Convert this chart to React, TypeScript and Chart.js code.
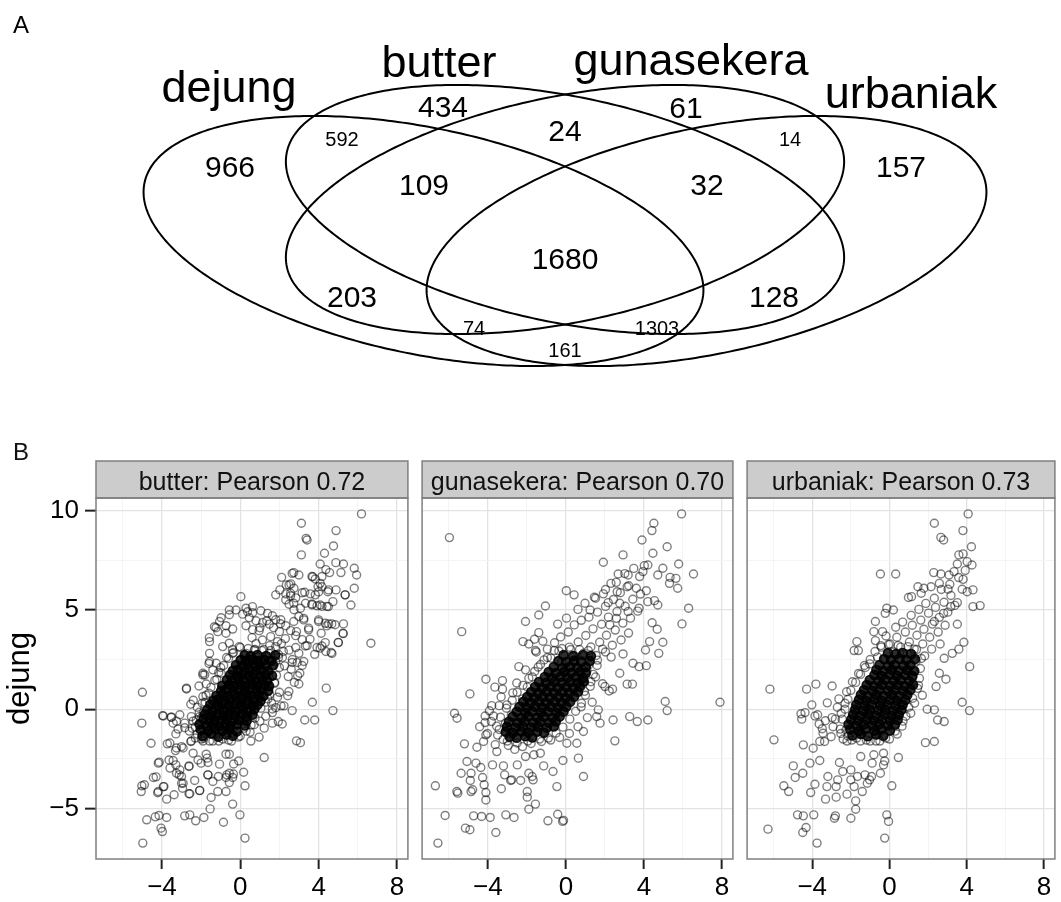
import React, { useEffect, useRef } from "react";
import { Chart, registerables } from "chart.js";

Chart.register(...registerables);

const FONT = "'Liberation Sans', Arial, Helvetica, sans-serif";
type P = [number, number];

// ---------------- Panel A : four-set Venn ----------------
const panelLetters = ["A", "B"];
const vennSets = ["dejung", "butter", "gunasekera", "urbaniak"];
const vennCenterX = [423.5, 565, 565, 706.5];
const vennCenterY = [241, 209.5, 209.5, 241];
const vennSemiMajor = [285, 284, 284, 285];
const vennSemiMinor = [113, 113, 113, 113];
const vennAngleDeg = [11.8, 11.6, -11.6, -11.8];
const vennSetLabelX = [229, 439, 691, 911];
const vennSetLabelBaseY = [102, 77, 75, 108];
const vennCounts = ["966", "434", "592", "109", "203", "74", "24", "61", "14", "157", "32", "1680", "128", "1303", "161"];
const vennCountX = [230, 443, 342, 424, 352, 474, 565, 686, 790, 901, 707, 565, 774, 657, 565];
const vennCountY = [166, 106, 139, 184, 296, 328, 130, 107, 139, 166, 184, 258, 296, 328, 350];
const vennCountSmall = [false, false, true, false, false, true, false, false, true, false, false, false, false, true, true];

// ---------------- Panel B : scatter facets ----------------
const xRange = [-7.37, 8.56];
const yRange = [-7.53, 10.62];
const xGridValues = [-6, -4, -2, 0, 2, 4, 6, 8];
const xMajorValues = [-4, 0, 4, 8];
const xTickLabels = ["\u22124", "0", "4", "8"];
const yGridValues = [-5, -2.5, 0, 2.5, 5, 7.5, 10];
const yMajorValues = [-5, 0, 5, 10];
const yTickLabels = ["\u22125", "0", "5", "10"];
const panelTitles = ["butter: Pearson 0.72", "gunasekera: Pearson 0.70", "urbaniak: Pearson 0.73"];
const yAxisTitle = "dejung";

const butterCore: P[] = [
  [-1.93,-1.34],[-1.48,-1.22],[-1.12,-1.38],[-0.71,-1.27],[-0.38,-1.33],
  [-2.02,-1.02],[-1.63,-1.1],[-1.27,-0.98],[-0.92,-1.08],[-0.57,-0.99],[-0.18,-1.12],
  [-2.08,-0.76],[-1.72,-0.84],[-1.38,-0.73],[-1.09,-0.86],[-0.77,-0.78],[-0.52,-0.85],[-0.16,-0.74],[0.23,-0.82],
  [-1.88,-0.5],[-1.57,-0.6],[-1.31,-0.52],[-0.98,-0.58],[-0.69,-0.49],[-0.41,-0.6],[-0.08,-0.53],[0.32,-0.58],
  [-1.82,-0.27],[-1.46,-0.33],[-1.18,-0.25],[-0.87,-0.34],[-0.62,-0.27],[-0.28,-0.32],[0.04,-0.26],[0.33,-0.35],[0.62,-0.28],
  [-1.68,-0.02],[-1.42,-0.09],[-1.07,0.0],[-0.83,-0.08],[-0.47,-0.03],[-0.22,-0.1],[0.13,-0.01],[0.38,-0.07],[0.72,0.0],
  [-1.53,0.24],[-1.18,0.17],[-0.92,0.25],[-0.58,0.16],[-0.31,0.23],[0.02,0.18],[0.28,0.26],[0.63,0.17],[0.88,0.22],
  [-1.37,0.43],[-1.12,0.5],[-0.78,0.41],[-0.52,0.49],[-0.17,0.42],[0.08,0.5],[0.42,0.44],[0.68,0.49],[1.03,0.41],
  [-1.22,0.68],[-0.87,0.74],[-0.63,0.66],[-0.27,0.73],[0.03,0.67],[0.32,0.75],[0.57,0.69],[0.93,0.72],[1.18,0.66],
  [-0.98,0.92],[-0.73,0.99],[-0.37,0.91],[-0.12,0.98],[0.23,0.93],[0.48,0.99],[0.83,0.92],[1.07,0.97],[1.42,0.93],
  [-0.92,1.18],[-0.57,1.24],[-0.33,1.16],[0.03,1.23],[0.27,1.17],[0.62,1.25],[0.88,1.18],[1.23,1.22],[1.47,1.17],
  [-0.68,1.47],[-0.42,1.42],[-0.08,1.49],[0.18,1.43],[0.53,1.48],[0.78,1.41],[1.12,1.47],[1.38,1.43],
  [-0.52,1.72],[-0.17,1.67],[0.08,1.73],[0.42,1.68],[0.67,1.74],[1.02,1.66],[1.28,1.72],[1.62,1.68],
  [-0.38,1.93],[-0.12,1.98],[0.23,1.92],[0.48,1.99],[0.82,1.93],[1.08,1.97],[1.43,1.92],
  [-0.22,2.22],[0.12,2.17],[0.37,2.23],[0.72,2.18],[0.98,2.24],[1.32,2.17],[1.68,2.21],
  [0.02,2.47],[0.28,2.43],[0.63,2.48],[0.88,2.42],[1.23,2.47],[1.58,2.44],
  [0.22,2.72],[0.53,2.67],[0.87,2.73],[1.32,2.68],[1.78,2.71],
];
const butterPoints: P[] = [
  [6.19,9.82],[3.12,9.35],[4.89,8.98],[3.36,8.59],[3.41,8.51],[4.76,8.21],[3.12,7.76],[4.3,7.84],[4.08,7.3],[4.88,7.37],[5.27,7.3],[5.82,7.09],[5.94,6.75],[4.56,6.87],[5.14,6.87],[3.66,6.67],[4.17,6.67],[2.65,6.83],[2.99,6.75],[2.11,6.63],[3.97,6.16],[4.08,6.33],[5.82,6.08],[4.89,6.0],[4.47,5.91],[3.29,5.88],[3.83,5.75],[2.35,6.25],[2.57,5.83],[5.36,5.75],[5.65,5.24],[3.66,5.29],[4.08,5.24],[4.5,5.16],[4.73,5.41],[2.73,5.33],[3.07,5.08],[4.0,4.49],[4.34,4.32],[4.67,4.29],[5.27,4.29],[5.24,3.82],[4.42,4.19],[4.13,3.82],[3.49,3.99],[3.24,4.49],[2.73,4.41],[2.87,3.9],[3.56,3.52],[4.34,3.35],[5.01,3.35],[6.67,3.32],[4.64,2.85],[4.08,3.07],[3.8,2.76],[3.32,3.18],[2.99,2.81],[3.24,2.4],[2.65,2.35],[3.04,1.81],[2.99,1.27],[2.45,1.64],[2.48,0.89],[4.39,1.06],[3.68,0.35],[4.73,-0.07],[2.65,-0.07],[3.29,-0.54],[3.8,-0.54],[2.87,-1.59],[3.07,-1.68],[1.22,-2.43],[2.14,-0.74],[1.94,-0.62],
  [-5.0,0.85],[-5.03,-0.7],[-4.56,-1.71],[-3.93,-0.34],[-3.54,-0.4],[-3.09,-0.28],[-3.43,-0.7],[-3.29,-1.24],[-3.73,-1.74],[-3.31,-2.08],[-3.0,-1.88],[-2.75,1.06],[-2.53,0.25],[-2.5,-0.37],[-2.53,-1.62],[-2.11,1.17],[-1.82,1.73],[-1.57,2.4],[-1.57,3.4],[-1.06,4.41],[-1.15,3.9],[-0.73,3.82],[-0.56,4.99],[0.03,5.66],[-0.22,4.99],[0.29,5.08],[0.62,5.16],[-1.4,1.98],[-1.91,0.64],[-2.08,-0.37],[-1.87,-1.46],[-2.16,-2.55],[-2.41,-2.21],[-3.43,-2.58],[-4.14,-2.66],[-4.19,-2.71],[-3.59,-2.96],[-3.09,-3.05],[-3.26,-3.22],[-3.0,-3.38],[-3.0,-3.72],[-2.95,-3.97],[-2.62,-2.85],[-4.44,-3.43],[-5.03,-3.85],[-5.06,-4.14],[-4.19,-4.14],[-3.9,-3.89],[-3.76,-4.52],[-3.38,-4.3],[-2.62,-4.25],[-2.33,-3.58],[-2.08,-4.09],[-1.65,-2.68],[-1.65,-3.3],[-1.4,-3.63],[-1.15,-4.14],[-1.74,-2.26],[-1.06,-2.76],[-0.73,-2.26],[-0.56,-3.22],[-0.73,-3.43],[-0.56,-3.69],[-0.39,-3.43],[-0.08,-2.6],[0.17,-3.17],[0.24,-3.85],[-0.73,-4.14],[-1.49,-4.44],[-0.39,-4.77],[-1.54,-5.01],[-1.86,-5.44],[-2.28,-5.61],[-2.58,-5.31],[-2.84,-5.36],[-3.76,-5.44],[-4.15,-5.34],[-4.34,-5.41],[-4.78,-5.56],[-4.05,-5.98],[-3.98,-6.15],[-4.98,-6.73],[-0.86,-5.68],[-0.02,-5.31],[0.24,-6.48],[-0.56,-2.26],[-0.34,-2.75],
  [4.37,7.02],[3.7,6.66],[3.83,6.55],[2.73,6.87],[2.58,6.3],[2.02,6.0],[2.32,5.8],[2.57,5.7],[2.83,5.6],[1.81,5.75],[3.16,5.86],[3.58,5.8],[4.0,5.9],[4.17,6.16],[4.51,6.0],[5.35,5.75],[4.17,5.17],[4.42,5.17],[3.66,5.25],[3.92,5.2],[3.33,5.33],[2.74,5.0],[2.99,4.66],[3.24,4.57],[3.49,4.08],[4.0,4.41],[4.51,4.29],[4.84,4.25],[5.26,3.8],[5.0,3.36],[4.68,2.8],[4.37,2.9],[4.17,3.18],[3.92,3.1],
  [-0.56,4.75],[0.12,4.78],[0.37,4.9],[0.63,4.85],[1.05,4.95],[1.39,4.82],[1.64,4.7],[1.81,4.5],[0.46,4.6],[0.8,4.45],[1.14,4.36],[1.48,4.28],[-0.98,4.6],[-1.24,4.1],[-1.58,3.6],[-0.73,4.2],[-0.39,4.03],[0.29,4.2],[0.63,4.0],[0.96,3.95],[2.49,6.25],[2.74,6.08],[2.32,5.5],[2.49,5.28],[2.07,4.5],[2.32,4.2],[2.57,3.95],[2.83,3.7],[3.16,3.5],[3.41,3.2],[2.83,3.1],[2.49,2.97],[2.15,2.6],[1.81,2.4],[2.66,2.5],[2.91,2.35],[3.16,2.2],
  [-0.05,3.15],[0.29,2.81],[0.71,2.98],[1.13,3.48],[1.55,3.65],[1.81,3.15],[1.47,2.81],[1.05,2.48],[0.46,2.39],[0.03,2.48],[-0.39,2.81],[-0.56,3.32],[-0.9,3.15],[-1.32,4.15],[-1.57,2.81],[-1.23,2.31],[-1.91,1.81],[-0.98,1.81],
  [1.9,3.4],[2.1,3.3],[2.0,3.9],[1.7,4.1],[2.3,3.55],[1.2,3.0],[0.8,3.3],[1.5,3.2],[2.2,2.9],[1.95,2.75],[0.6,3.6],[1.0,4.1],[2.05,4.3],[1.35,4.45],
  [-2.75,1.02],[-1.74,1.27],[-1.91,1.72],[-1.6,2.3],[-3.97,-0.32],[-3.51,-0.4],[-3.26,-0.6],[-2.84,-0.7],[-2.41,-0.6],[-1.99,-0.45],[-3.18,-1.0],[-2.84,-0.93],[-3.6,-1.7],[-3.26,-1.95],[-2.92,-1.95],[-2.5,-1.6],[-1.99,-1.5],[-1.57,-1.6],[-1.82,-1.36],[-1.4,-1.28],[-1.06,-1.11],[-0.73,-1.03],[-0.3,-0.86],[0.2,-0.95],[0.71,-0.78],[1.22,-0.95],[1.64,-0.7],[0.54,-1.6],[0.96,-1.4],[1.81,0.08],[2.23,0.17],[1.64,-0.17],[2.08,0.17],[2.76,1.35],[2.42,0.68],[2.93,1.68],[2.6,2.01],[2.26,2.18],[1.75,1.35],[2.0,0.85],[1.41,0.52],[1.64,0.01],
  [-3.64,-2.55],[-3.29,-2.8],[-3.12,-3.3],[-2.92,-3.72],[-2.62,-2.88],[-4.3,-3.4],[-4.9,-3.8],[-4.22,-4.2],[-3.93,-3.89],[-2.58,-4.25],[-2.07,-4.08],[-2.0,-2.71],[-1.69,-2.46],[-1.66,-3.3],[-1.12,-3.38],[-0.69,-3.3],[-0.35,-3.26],
  [-2.3,-0.9],[-2.6,-1.1],[-2.2,-1.25],[-1.9,-0.2],[-2.2,0.1],[-1.8,0.35],[-1.6,0.8],[-2.4,0.45],[-1.2,1.5],[-1.0,2.1],[-0.7,2.6],[-0.4,3.0],[1.6,0.3],[1.9,0.6],[1.3,-0.35],[1.0,-0.6],[0.5,-1.15],[-0.1,-1.4],[-0.6,-1.55],[-1.1,-1.6],
  [-2.3,-1.45],[-2.45,-0.95],[-2.25,-0.55],[-2.1,-0.15],[-1.95,0.3],[-1.75,0.7],[-1.5,1.1],[-1.3,1.45],[-1.1,1.85],[-0.85,2.2],[-0.6,2.55],[-0.35,2.85],[0.0,3.1],[0.4,3.05],[0.75,3.0],[1.1,2.95],[1.55,2.95],[1.95,2.6],[2.0,2.1],[1.85,1.7],[1.75,1.3],[1.5,0.75],[1.3,0.35],[1.05,0.05],[0.75,-0.45],[0.55,-0.8],[0.3,-1.1],[0.0,-1.35],[-0.45,-1.6],[-0.9,-1.5],[-1.4,-1.6],[-1.9,-1.6],
];

const gunasekeraCore: P[] = [
  [-2.88,-1.38],[-2.52,-1.43],[-2.08,-1.36],[-1.72,-1.42],
  [-3.08,-1.13],[-2.72,-1.18],[-2.28,-1.12],[-1.92,-1.17],[-1.48,-1.13],[-1.12,-1.18],
  [-3.02,-0.88],[-2.58,-0.93],[-2.22,-0.87],[-1.78,-0.92],[-1.42,-0.88],[-0.98,-0.93],[-0.62,-0.87],
  [-2.92,-0.63],[-2.48,-0.68],[-2.12,-0.62],[-1.68,-0.67],[-1.32,-0.63],[-0.88,-0.68],[-0.52,-0.62],
  [-2.72,-0.38],[-2.28,-0.43],[-1.92,-0.37],[-1.48,-0.42],[-1.12,-0.38],[-0.68,-0.43],[-0.32,-0.37],
  [-2.52,-0.13],[-2.08,-0.18],[-1.72,-0.12],[-1.28,-0.17],[-0.92,-0.13],[-0.48,-0.18],[-0.12,-0.12],
  [-2.38,0.12],[-2.02,0.07],[-1.58,0.13],[-1.22,0.08],[-0.78,0.12],[-0.42,0.07],[0.02,0.13],
  [-2.18,0.37],[-1.82,0.32],[-1.38,0.38],[-1.02,0.33],[-0.58,0.37],[-0.22,0.32],[0.22,0.38],
  [-1.98,0.62],[-1.62,0.57],[-1.18,0.63],[-0.82,0.58],[-0.38,0.62],[-0.02,0.57],[0.42,0.63],
  [-1.78,0.87],[-1.42,0.82],[-0.98,0.88],[-0.62,0.83],[-0.18,0.87],[0.18,0.82],[0.62,0.88],
  [-1.58,1.12],[-1.22,1.07],[-0.78,1.13],[-0.42,1.08],[0.02,1.12],[0.38,1.07],[0.72,1.13],
  [-1.38,1.37],[-1.02,1.32],[-0.58,1.38],[-0.22,1.33],[0.22,1.37],[0.58,1.32],[0.92,1.38],
  [-1.08,1.62],[-0.72,1.57],[-0.28,1.63],[0.08,1.58],[0.52,1.62],[0.88,1.57],
  [-0.88,1.87],[-0.52,1.82],[-0.08,1.88],[0.28,1.83],[0.72,1.87],[1.02,1.82],
  [-0.62,2.12],[-0.18,2.07],[0.22,2.13],[0.58,2.08],[1.02,2.12],
  [-0.38,2.42],[0.02,2.37],[0.42,2.43],[0.78,2.38],[1.22,2.42],
  [-0.12,2.72],[0.38,2.67],[0.88,2.73],[1.28,2.68],
];
const gunasekeraPoints: P[] = [
  [-5.97,8.63],[5.93,9.82],[4.51,9.35],[4.41,8.98],[3.9,8.51],[5.19,8.17],[2.93,7.76],[1.92,7.39],[4.46,7.84],[5.78,7.3],[6.54,6.8],[4.97,7.09],[4.2,7.25],[3.95,6.92],[4.71,6.75],[2.68,6.8],[3.19,6.75],[3.78,6.67],[5.34,6.63],[5.64,6.58],[5.31,6.33],[5.73,6.08],[2.31,6.33],[3.14,6.16],[3.61,6.08],[4.12,5.96],[2.63,5.91],[0.02,5.96],[0.42,5.75],[1.46,5.63],[1.92,5.8],[2.17,5.36],[2.76,5.33],[4.54,5.46],[4.71,5.24],[4.2,5.41],[6.29,5.08],[3.75,5.08],[3.19,4.91],[1.24,4.99],[-1.05,5.19],[-1.39,4.74],[-2.07,4.41],[4.42,4.35],[5.95,4.29],[4.68,4.02],[2.59,4.57],[2.25,4.24],[4.97,3.37],[4.29,3.4],[4.76,2.81],[4.08,2.98],[4.12,2.19],[3.75,2.14],[3.44,2.31],[2.93,2.78],[2.76,1.81],[3.14,1.26],[3.41,1.26],[2.39,1.01],[2.0,1.14],[5.09,0.39],[5.19,-0.07],[7.9,0.35],[3.27,-0.37],[3.66,-0.62],[4.2,-0.54],[2.42,-0.54],[1.66,-0.03],[1.58,-0.37],[1.75,-0.7],[2.51,-1.59],[0.9,-1.12],[0.56,-1.71],[0.05,-1.71],[0.64,-2.46],[0.9,-3.38],[-0.15,-2.58],[-0.66,-3.13],[-1.14,-2.85],[-1.64,-2.29],[-1.31,-2.21],[-2.07,-2.38],[-2.49,-2.8],[-2.78,-3.55],[-2.32,-3.58],[-1.9,-3.22],[-1.73,-3.38],[-1.68,-3.55],[-1.98,-4.14],[-1.98,-4.42],[-1.56,-4.77],[-1.9,-5.03],[-0.46,-3.89],[-0.92,-5.61],[-0.42,-5.28],[-0.17,-5.64],[-0.12,-5.59],[-3.08,-5.31],[-2.66,-5.44],[-3.59,-6.2],[-3.88,-5.44],[-4.32,-5.39],[-4.73,-5.36],[-6.19,-5.34],[-5.15,-5.98],[-4.92,-6.06],[-6.56,-6.73],[-6.69,-3.85],[-5.54,-4.22],[-5.59,-4.14],[-4.86,-4.14],[-4.78,-4.05],[-4.1,-4.19],[-4.1,-4.56],[-3.31,-4.0],[-2.83,-3.58],[-5.37,-3.22],[-4.86,-3.22],[-4.9,-3.58],[-4.27,-3.43],[-4.19,-3.8],[-4.36,-2.93],[-4.61,-2.71],[-5.07,-2.63],[-3.76,-2.8],[-3.2,-2.85],[-3.14,-3.3],[-5.2,-1.74],[-4.56,-1.91],[-4.22,-1.62],[-3.54,-2.13],[-4.1,-1.29],[-5.34,3.9],[-4.92,0.77],[-5.71,-0.2],[-5.58,-0.45],[-4.1,1.51],[-3.64,1.11],[-3.25,1.01],[-3.25,1.44],[-3.8,0.18],[-3.42,0.18],[-4.14,-0.34],[-4.14,-0.67],[-3.71,-0.34],[-2.41,2.14],[-2.07,1.98],[-2.2,3.4],[-1.9,3.28],[-1.61,3.52],[-1.39,3.85],[-1.56,2.95],
  [-0.95,3.02],[-0.58,3.34],[-0.27,3.63],[0.12,3.88],[0.43,4.24],[0.79,4.47],[1.18,4.63],[1.62,4.88],[2.03,5.17],[2.44,5.52],[2.79,5.86],[3.22,6.21],
  [-0.77,2.57],[-0.36,2.93],[0.18,3.12],[0.63,3.38],[1.02,3.71],[1.39,4.04],[1.83,4.27],[2.18,4.63],[2.62,4.91],[3.04,5.18],[3.43,5.53],[3.82,5.79],
  [0.47,2.48],[0.93,2.82],[1.28,3.13],[1.73,3.37],[2.08,3.72],[2.53,3.98],[2.92,4.33],[3.31,4.58],[3.68,4.93],
  [1.17,2.23],[1.62,2.47],[2.03,2.88],[2.38,3.22],[2.83,3.48],[3.21,3.83],
  [0.03,4.58],[0.62,5.02],[0.98,5.33],[-0.42,4.28],[-1.18,3.42],[-1.52,2.88],[1.52,5.58],[2.03,6.02],[2.58,6.38],[3.02,6.82],[3.48,7.08],[4.02,7.22],
  [-0.22,2.38],[0.32,2.72],[1.88,3.02],[2.32,2.62],[1.08,1.93],[1.52,1.62],[1.88,1.28],[2.22,0.92],[1.28,1.38],[0.95,0.9],[1.35,0.35],[0.78,0.12],[1.1,-0.42],[0.62,-0.88],[0.18,-1.22],[-0.32,-1.42],[-0.78,-1.55],[-1.25,-1.62],[-1.78,-1.72],[-2.22,-1.88],[-2.62,-2.02],[-2.95,-1.82],[-3.22,-1.52],[-3.42,-1.02],[-3.62,-1.78],[-4.02,-1.22],[-3.82,-0.62],[-3.92,-0.08],[-4.42,-0.88],[-3.02,0.22],[-3.32,0.62],[-2.72,0.82],[-2.52,1.32],[-2.22,0.52],[-1.98,1.12],[-1.72,1.62],[-1.42,2.12],[-1.12,2.48],[-2.8,-0.3],[-3.1,-0.7],
  [-3.5,-1.3],[-3.55,-0.85],[-3.35,-0.4],[-3.05,0.05],[-2.75,0.45],[-2.5,0.85],[-2.2,1.2],[-1.9,1.55],[-1.6,1.9],[-1.3,2.25],[-0.95,2.6],[-0.6,2.95],[-0.2,3.05],[0.25,3.0],[0.7,3.0],[1.15,2.95],[1.55,2.7],[1.6,2.2],[1.4,1.75],[1.25,1.15],[1.0,0.7],[0.8,0.3],[0.5,-0.1],[0.2,-0.5],[-0.15,-0.9],[-0.5,-1.2],[-0.9,-1.45],[-1.35,-1.5],[-1.95,-1.6],[-2.5,-1.7],[-3.0,-1.6],
];

const urbaniakCore: P[] = [
  [-1.92,-1.32],[-1.48,-1.24],[-1.12,-1.36],[-0.68,-1.27],[-0.32,-1.33],
  [-2.03,-1.02],[-1.58,-1.1],[-1.22,-0.98],[-0.77,-1.08],[-0.43,-1.0],[0.02,-1.07],
  [-2.12,-0.77],[-1.68,-0.84],[-1.32,-0.76],[-0.88,-0.83],[-0.52,-0.75],[-0.08,-0.82],[0.28,-0.78],
  [-1.98,-0.52],[-1.62,-0.58],[-1.18,-0.51],[-0.82,-0.57],[-0.38,-0.52],[0.03,-0.58],[0.42,-0.53],
  [-1.88,-0.27],[-1.52,-0.33],[-1.08,-0.26],[-0.72,-0.32],[-0.28,-0.27],[0.12,-0.33],[0.48,-0.28],
  [-1.78,-0.02],[-1.38,-0.08],[-1.02,-0.01],[-0.58,-0.07],[-0.22,-0.02],[0.18,-0.08],[0.62,-0.03],
  [-1.72,0.23],[-1.28,0.17],[-0.92,0.24],[-0.48,0.18],[-0.12,0.23],[0.32,0.17],[0.68,0.22],
  [-1.58,0.48],[-1.22,0.42],[-0.78,0.49],[-0.42,0.43],[0.02,0.48],[0.38,0.42],[0.82,0.47],
  [-1.48,0.73],[-1.12,0.67],[-0.68,0.72],[-0.32,0.68],[0.12,0.73],[0.48,0.67],[0.92,0.72],
  [-1.32,0.97],[-0.88,0.92],[-0.52,0.98],[-0.08,0.93],[0.28,0.97],[0.72,0.92],[1.08,0.98],
  [-1.18,1.22],[-0.82,1.17],[-0.38,1.23],[0.02,1.18],[0.42,1.22],[0.78,1.17],[1.22,1.23],
  [-1.02,1.47],[-0.58,1.42],[-0.22,1.48],[0.22,1.43],[0.58,1.47],[1.02,1.42],
  [-0.78,1.72],[-0.42,1.67],[0.02,1.73],[0.38,1.68],[0.82,1.72],[1.18,1.67],
  [-0.68,1.97],[-0.32,1.92],[0.12,1.98],[0.48,1.93],[0.92,1.97],[1.28,1.92],
  [-0.52,2.22],[-0.08,2.17],[0.28,2.23],[0.72,2.18],[1.08,2.22],
  [-0.28,2.52],[0.08,2.47],[0.52,2.53],[0.88,2.48],[1.32,2.52],
  [-0.08,2.82],[0.32,2.77],[0.68,2.83],[1.12,2.78],
];
const urbaniakPoints: P[] = [
  [4.07,9.82],[2.32,9.35],[3.8,8.98],[2.66,8.64],[2.8,8.51],[4.24,8.17],[3.59,7.76],[3.81,7.81],[4.27,7.25],[4.02,7.42],[3.51,7.3],[-0.47,6.8],[0.32,6.8],[2.29,6.87],[2.66,6.8],[3.08,6.75],[3.34,6.92],[3.81,6.53],[3.76,6.03],[4.02,5.91],[4.32,6.0],[4.69,5.21],[4.32,5.16],[3.03,6.03],[2.58,6.33],[2.15,6.16],[1.47,6.16],[1.64,5.83],[1.14,5.66],[3.51,5.36],[3.17,5.16],[2.8,4.82],[3.51,4.27],[2.32,4.41],[-0.14,5.08],[0.2,4.99],[-0.22,4.82],[-0.73,4.41],[-0.81,3.9],[-0.36,3.9],[-1.69,3.4],[-1.83,2.95],[-1.61,2.95],[-0.73,3.45],[3.85,3.37],[3.59,3.02],[3.25,2.81],[4.15,2.14],[2.83,2.56],[2.92,1.51],[2.58,1.81],[2.41,1.14],[3.76,0.35],[4.14,-0.07],[2.32,-0.03],[2.83,-0.62],[2.49,-0.54],[1.95,0.0],[2.32,-1.62],[1.86,-1.68],[0.46,-2.43],[-0.25,-2.6],[-0.31,-2.8],[-0.81,-2.29],[-0.9,-2.71],[-0.93,-3.38],[-1.03,-3.55],[-1.27,-3.3],[-1.15,-3.72],[-0.47,-3.22],[0.12,-3.85],[-1.41,-4.14],[-1.83,-3.89],[-2.0,-3.55],[-1.66,-3.38],[-1.49,-2.38],[-2.0,-3.05],[-2.59,-2.68],[-2.42,-3.13],[-2.68,-3.55],[-2.76,-3.89],[-3.19,-3.38],[-3.24,-3.89],[-3.31,-4.52],[-2.76,-4.42],[-2.2,-4.27],[-1.75,-4.61],[-1.75,-5.03],[-2.0,-5.48],[-2.85,-5.48],[-2.8,-5.36],[-0.14,-5.31],[-0.05,-5.64],[-0.25,-6.48],[-3.75,-6.73],[-3.92,-5.31],[-4.46,-5.36],[-4.76,-5.31],[-4.32,-5.95],[-4.49,-6.2],[-6.29,-6.03],[-5.47,-3.85],[-5.22,-4.14],[-4.88,-3.43],[-4.49,-3.22],[-4.98,-2.85],[-4.12,-2.71],[-4.08,-4.19],[-3.86,-3.77],[-3.61,-2.58],[-3.95,-1.96],[-4.46,-1.79],[-3.36,-1.62],[-5.98,-1.54],[-6.19,1.01],[-4.29,1.01],[-3.81,1.26],[-2.97,1.17],[-4.58,-0.23],[-4.37,-0.17],[-4.54,-0.5],[-3.86,-0.34],[-3.64,-0.74],[-2.97,-0.42],[-3.44,-1.21],[-3.61,-1.62],[-2.25,-1.04],[-0.31,-2.21],
  [-0.42,3.12],[0.03,3.28],[0.38,3.62],[0.82,3.88],[1.18,4.22],[1.62,4.48],[2.02,4.83],[2.38,5.12],[2.82,5.38],[3.18,5.72],
  [0.22,2.88],[0.58,3.12],[1.03,3.38],[1.42,3.72],[1.78,4.02],[2.22,4.28],[2.58,4.62],[3.02,4.88],[3.38,5.22],
  [0.92,2.78],[1.28,3.02],[1.72,3.28],[2.08,3.62],[2.52,3.88],[2.88,4.22],[-0.18,3.68],[0.32,4.12],[0.68,4.38],[1.12,4.72],[1.52,5.02],[1.88,5.32],[2.32,5.58],[2.68,6.02],[3.12,6.28],
  [1.38,2.42],[1.82,2.68],[2.18,3.02],[2.62,3.28],[-0.62,2.62],[-1.02,2.28],[0.98,5.62],[1.78,6.08],[3.58,6.62],[3.92,6.98],
  [1.2,1.6],[1.5,1.2],[1.7,0.7],[1.3,0.3],[1.1,-0.2],[0.7,-0.6],[0.3,-1.1],[-0.2,-1.45],[-0.7,-1.6],[-1.2,-1.55],[-1.7,-1.45],[-2.15,-1.35],
  [-2.92,-0.88],[-3.32,-0.58],[-2.52,-1.22],[-3.02,-1.38],[-3.48,-0.98],[-2.2,-1.6],[-3.72,-0.28],[-4.02,0.22],[-3.22,0.32],[-2.62,0.52],[-2.22,0.88],[-1.92,1.38],[-1.6,1.8],[-1.3,2.2],[-2.5,-0.2],[-2.7,0.1],[-2.3,0.3],[-2.8,-0.5],
  [-2.4,-1.5],[-2.55,-1.0],[-2.45,-0.5],[-2.3,0.0],[-2.15,0.5],[-2.0,0.95],[-1.75,1.35],[-1.5,1.75],[-1.25,2.1],[-1.0,2.5],[-0.75,2.9],[-0.45,3.2],[-0.05,3.25],[0.45,3.2],[0.95,3.15],[1.4,3.0],[1.65,2.55],[1.6,2.05],[1.55,1.55],[1.45,1.05],[1.2,0.55],[1.0,0.1],[0.85,-0.35],[0.65,-0.85],[0.4,-1.25],[0.0,-1.5],[-0.5,-1.6],[-1.0,-1.6],[-1.5,-1.6],[-1.95,-1.55],
];

const panelCores = [butterCore, gunasekeraCore, urbaniakCore];
const panelPoints = [butterPoints, gunasekeraPoints, urbaniakPoints];

// ---------------- plugins ----------------
const vennPlugin = {
  id: "vennDraw",
  afterDatasetsDraw(chart: any) {
    const { ctx } = chart;
    const xs = chart.scales.x;
    const ys = chart.scales.y;
    ctx.save();
    ctx.strokeStyle = "#000";
    ctx.lineWidth = 2;
    for (let i = 0; i < vennSets.length; i++) {
      const phi = (vennAngleDeg[i] * Math.PI) / 180;
      ctx.beginPath();
      for (let k = 0; k <= 360; k++) {
        const t = (k * Math.PI) / 180;
        const u = vennSemiMajor[i] * Math.cos(t);
        const v = vennSemiMinor[i] * Math.sin(t);
        const dx = vennCenterX[i] + u * Math.cos(phi) - v * Math.sin(phi);
        const dy = vennCenterY[i] + u * Math.sin(phi) + v * Math.cos(phi);
        const px = xs.getPixelForValue(dx);
        const py = ys.getPixelForValue(dy);
        if (k === 0) ctx.moveTo(px, py);
        else ctx.lineTo(px, py);
      }
      ctx.closePath();
      ctx.stroke();
    }
    ctx.fillStyle = "#000";
    ctx.textAlign = "center";
    ctx.textBaseline = "alphabetic";
    ctx.font = `45px ${FONT}`;
    vennSets.forEach((s, i) => {
      ctx.fillText(s, xs.getPixelForValue(vennSetLabelX[i]), ys.getPixelForValue(vennSetLabelBaseY[i]));
    });
    vennCounts.forEach((c, i) => {
      const size = vennCountSmall[i] ? 20 : 30;
      ctx.font = `${size}px ${FONT}`;
      ctx.fillText(c, xs.getPixelForValue(vennCountX[i]), ys.getPixelForValue(vennCountY[i]) + size * 0.358);
    });
    ctx.font = `24px ${FONT}`;
    ctx.textAlign = "left";
    ctx.fillText(panelLetters[0], 13, 33);
    ctx.restore();
  },
};

const panelDecor = {
  id: "panelDecor",
  afterDraw(chart: any, _args: any, opts: any) {
    const { ctx, chartArea: a } = chart;
    const stripH = 37;
    ctx.save();
    ctx.fillStyle = "#cccccc";
    ctx.fillRect(a.left, a.top - stripH, a.right - a.left, stripH);
    ctx.strokeStyle = "#7f7f7f";
    ctx.lineWidth = 1.5;
    ctx.strokeRect(a.left, a.top - stripH, a.right - a.left, stripH);
    ctx.strokeRect(a.left, a.top, a.right - a.left, a.bottom - a.top);
    ctx.fillStyle = "#111";
    ctx.font = `25px ${FONT}`;
    ctx.textAlign = "center";
    ctx.textBaseline = "alphabetic";
    ctx.fillText(opts.title, (a.left + a.right) / 2, a.top - 8);
    if (opts.tag) {
      ctx.font = `24px ${FONT}`;
      ctx.textAlign = "left";
      ctx.fillText(opts.tag, 13, 20);
    }
    ctx.restore();
  },
};

function panelConfig(idx: number, showY: boolean, pad: any) {
  const isMajorX = (v: number) => xMajorValues.indexOf(v) >= 0;
  const isMajorY = (v: number) => yMajorValues.indexOf(v) >= 0;
  return {
    type: "scatter",
    data: {
      datasets: [
        {
          data: panelCores[idx].map(([x, y]) => ({ x, y })),
          pointRadius: 4.5,
          borderWidth: 1.6,
          borderColor: "rgba(0,0,0,0.9)",
          backgroundColor: "rgba(0,0,0,0.82)",
        },
        {
          data: panelPoints[idx].map(([x, y]) => ({ x, y })),
          pointRadius: 4,
          borderWidth: 1.4,
          borderColor: "rgba(0,0,0,0.5)",
          backgroundColor: "rgba(0,0,0,0)",
        },
      ],
    },
    options: {
      responsive: false,
      animation: false,
      devicePixelRatio: 1,
      events: [],
      layout: { padding: pad },
      plugins: {
        legend: { display: false },
        tooltip: { enabled: false },
        panelDecor: { title: panelTitles[idx], tag: idx === 0 ? panelLetters[1] : "" },
      },
      scales: {
        x: {
          type: "linear",
          min: xRange[0],
          max: xRange[1],
          afterBuildTicks: (s: any) => {
            s.ticks = xGridValues.map((v) => ({ value: v }));
          },
          afterFit: (s: any) => {
            s.height = 43;
          },
          border: { display: false },
          grid: {
            color: (c: any) => (isMajorX(c.tick?.value) ? "#e3e3e3" : "#f4f4f4"),
            lineWidth: (c: any) => (isMajorX(c.tick?.value) ? 1.3 : 1),
            tickColor: (c: any) => (isMajorX(c.tick?.value) ? "#222" : "rgba(0,0,0,0)"),
            tickLength: 10,
            tickWidth: 2,
          },
          ticks: {
            autoSkip: false,
            maxRotation: 0,
            padding: 3,
            color: "#000",
            font: { size: 26, family: FONT },
            callback: (v: number) => {
              const i = xMajorValues.indexOf(v);
              return i >= 0 ? xTickLabels[i] : "";
            },
          },
        },
        y: {
          type: "linear",
          min: yRange[0],
          max: yRange[1],
          afterBuildTicks: (s: any) => {
            s.ticks = yGridValues.map((v) => ({ value: v }));
          },
          afterFit: (s: any) => {
            s.width = showY ? 96 : 0;
          },
          border: { display: false },
          title: {
            display: showY,
            text: yAxisTitle,
            color: "#000",
            font: { size: 31, family: FONT },
            padding: { top: 2, bottom: 0 },
          },
          grid: {
            color: (c: any) => (isMajorY(c.tick?.value) ? "#e3e3e3" : "#f4f4f4"),
            lineWidth: (c: any) => (isMajorY(c.tick?.value) ? 1.3 : 1),
            tickColor: (c: any) => (isMajorY(c.tick?.value) ? "#222" : "rgba(0,0,0,0)"),
            drawTicks: showY,
            tickLength: 11,
            tickWidth: 2,
          },
          ticks: {
            display: showY,
            autoSkip: false,
            padding: 6,
            color: "#000",
            font: { size: 26, family: FONT },
            callback: (v: number) => {
              const i = yMajorValues.indexOf(v);
              return i >= 0 ? yTickLabels[i] : "";
            },
          },
        },
      },
    },
    plugins: [panelDecor],
  };
}

function vennConfig() {
  return {
    type: "scatter",
    data: {
      datasets: [
        {
          data: vennCountX.map((x, i) => ({ x, y: vennCountY[i] })),
          pointRadius: 0,
        },
      ],
    },
    options: {
      responsive: false,
      animation: false,
      devicePixelRatio: 1,
      events: [],
      layout: { padding: 0 },
      plugins: { legend: { display: false }, tooltip: { enabled: false } },
      scales: {
        x: { type: "linear", min: 0, max: 1061, display: false },
        y: { type: "linear", min: 0, max: 400, reverse: true, display: false },
      },
    },
    plugins: [vennPlugin],
  };
}

export default function App() {
  const vennRef = useRef<HTMLCanvasElement>(null);
  const p1 = useRef<HTMLCanvasElement>(null);
  const p2 = useRef<HTMLCanvasElement>(null);
  const p3 = useRef<HTMLCanvasElement>(null);

  useEffect(() => {
    const charts: Chart[] = [];
    charts.push(new Chart(vennRef.current as HTMLCanvasElement, vennConfig() as any));
    charts.push(new Chart(p1.current as HTMLCanvasElement, panelConfig(0, true, { top: 58, left: 0, right: 4, bottom: 0 }) as any));
    charts.push(new Chart(p2.current as HTMLCanvasElement, panelConfig(1, false, { top: 58, left: 4, right: 4, bottom: 0 }) as any));
    charts.push(new Chart(p3.current as HTMLCanvasElement, panelConfig(2, false, { top: 58, left: 4, right: 1, bottom: 0 }) as any));
    return () => charts.forEach((c) => c.destroy());
  }, []);

  const abs = (left: number, top: number, w: number, h: number): React.CSSProperties => ({
    position: "absolute",
    left,
    top,
    width: w,
    height: h,
  });

  return (
    <div style={{ position: "absolute", left: 0, top: 0, width: 1061, height: 902, background: "#fff" }}>
      <canvas ref={vennRef} width={1061} height={400} style={abs(0, 0, 1061, 400)} />
      <canvas ref={p1} width={414} height={462} style={abs(0, 440, 414, 462)} />
      <canvas ref={p2} width={323} height={462} style={abs(416, 440, 323, 462)} />
      <canvas ref={p3} width={320} height={462} style={abs(741, 440, 320, 462)} />
    </div>
  );
}
